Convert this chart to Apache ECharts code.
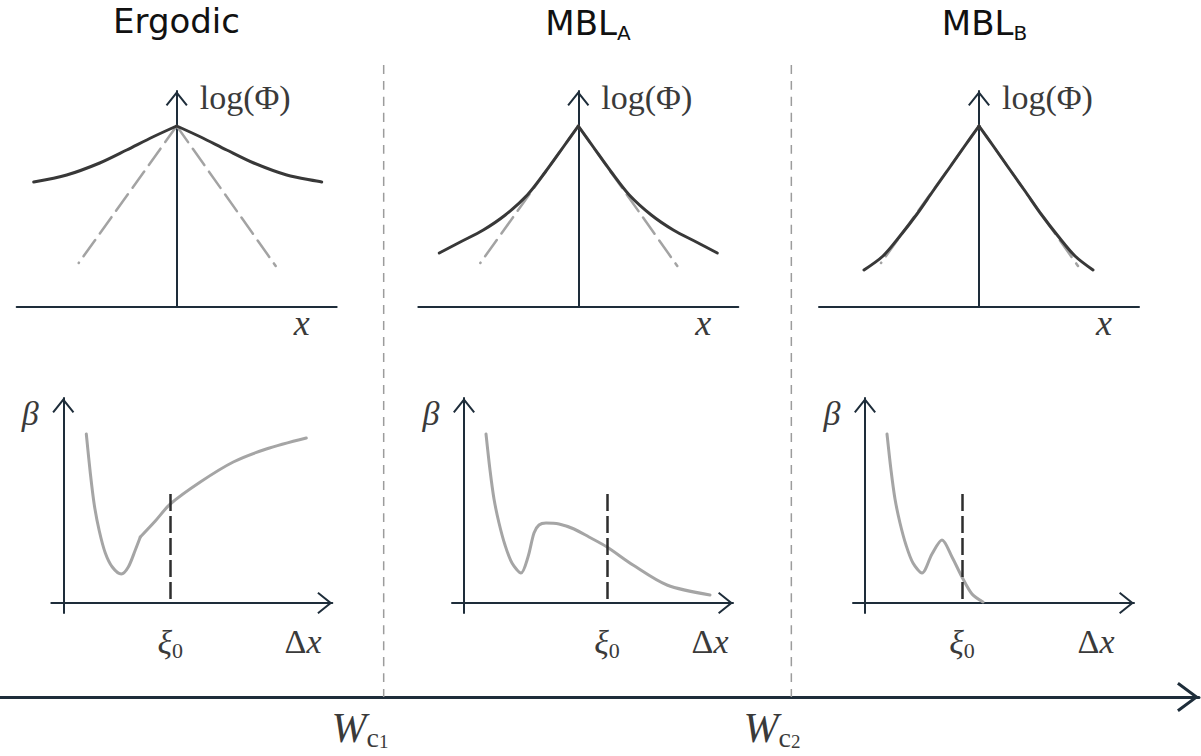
<!DOCTYPE html>
<html>
<head>
<meta charset="utf-8">
<title>Ergodic / MBL</title>
<script src="https://cdn.jsdelivr.net/npm/echarts@6.0.0/dist/echarts.min.js"></script>
<style>
    html, body { margin: 0; padding: 0; background: #fff; }
    #chart { width: 1201px; height: 756px; }
</style>
</head>
<body>
<div id="chart"></div>
<script>
// panel units: 1 unit = 100 px of the sketch

// top row: log(Phi) vs x, each curve split at the peak (x = 0)
var ergodicPhiLeft  = [[-1.43, 1.25], [-1.10, 1.32], [-0.77, 1.44], [-0.50, 1.57], [-0.24, 1.70], [0, 1.81]];
var ergodicPhiRight = [[0, 1.81], [0.24, 1.70], [0.50, 1.57], [0.77, 1.44], [1.10, 1.32], [1.45, 1.25]];
var mblAPhiLeft  = [[-1.39, 0.54], [-1.18, 0.65], [-0.95, 0.77], [-0.73, 0.92], [-0.51, 1.12], [-0.33, 1.35], [-0.15, 1.60], [0, 1.81]];
var mblAPhiRight = [[0, 1.81], [0.15, 1.60], [0.33, 1.35], [0.51, 1.12], [0.73, 0.92], [0.95, 0.77], [1.18, 0.65], [1.39, 0.54]];
var mblBPhiLeft  = [[-1.15, 0.37], [-0.96, 0.51], [-0.79, 0.71], [-0.62, 0.93], [-0.46, 1.16], [-0.29, 1.40], [-0.15, 1.60], [0, 1.81]];
var mblBPhiRight = [[0, 1.81], [0.15, 1.60], [0.29, 1.40], [0.46, 1.16], [0.62, 0.93], [0.79, 0.71], [0.96, 0.51], [1.14, 0.37]];
// dashed pure exponential, same in the three panels
var decayLeft  = [[0, 1.81], [-0.98, 0.44]];
var decayRight = [[0, 1.81], [0.99, 0.41]];

// bottom row: beta vs Delta x
var ergodicBetaA = [[0.23, 1.69], [0.27, 1.30], [0.31, 0.98], [0.36, 0.72], [0.42, 0.50], [0.49, 0.36], [0.58, 0.29],
                    [0.65, 0.36], [0.72, 0.53], [0.77, 0.66]];
var ergodicBetaB = [[0.77, 0.66], [0.92, 0.82], [1.07, 0.99], [1.37, 1.21], [1.70, 1.41], [2.03, 1.54], [2.43, 1.65]];
var mblABeta = [[0.22, 1.69], [0.26, 1.33], [0.30, 1.04], [0.35, 0.80], [0.41, 0.58], [0.48, 0.40], [0.57, 0.30],
                [0.64, 0.46], [0.70, 0.70], [0.75, 0.78], [0.82, 0.80], [0.95, 0.79], [1.10, 0.74], [1.25, 0.66], [1.43, 0.56],
                [1.69, 0.38], [2.03, 0.18], [2.46, 0.08]];
var mblBBeta = [[0.22, 1.69], [0.26, 1.33], [0.30, 1.04], [0.35, 0.80], [0.41, 0.58], [0.48, 0.40], [0.57, 0.30],
                [0.67, 0.49], [0.77, 0.63], [0.87, 0.46], [0.97, 0.26], [1.07, 0.09], [1.18, 0.01]];
var xi0 = [1.07, 1.43, 0.97];
var xi0Top = 1.09;

// W axis
var wCritical = [0.96, 1.98];
var wNames = ['1', '2'];

var titles = ['Ergodic', 'MBL', 'MBL'];
var titleSubs = ['', 'A', 'B'];

// layout / style
var topCentres = [176.7, 578.3, 979];
var bottomOrigins = [63.3, 464, 865];
var deltaXPos = [303, 710, 1096];
var wLabelPos = [360, 772];
var axisColor = '#1e2d3a';
var darkCurve = '#383838';
var greyDash = '#a3a3a3';
var greyBeta = '#a5a5a5';
var labelColor = '#3a3a3a';
var serif = '"Liberation Serif", "DejaVu Serif", serif';
var sans = '"DejaVu Sans", "Liberation Sans", sans-serif';

// open arrow head pointing up, as a filled band
function chevron(w, h, t) {
    var a = h - t * 0.6;
    var L = Math.sqrt(w * w / 4 + a * a);
    var ox = t * a / L, oy = t * (w / 2) / L;
    var tip = t * 2 * L / w;
    return 'path://M0,' + a + 'L' + (w / 2) + ',0L' + w + ',' + a +
        'L' + (w - ox) + ',' + (a + oy) + 'L' + (w / 2) + ',' + tip +
        'L' + ox + ',' + (a + oy) + 'Z';
}
var smallHead = chevron(22, 15, 2);
var bigHead = chevron(30, 22, 3);

function valueAxis(extra) {
    var ax = {
        type: 'value',
        axisTick: {show: false},
        axisLabel: {show: false},
        splitLine: {show: false}
    };
    for (var k in extra) ax[k] = extra[k];
    return ax;
}

function line(gi, data, color, width, dash, z) {
    return {
        type: 'line', xAxisIndex: gi, yAxisIndex: gi,
        data: data, smooth: 0.3, symbol: 'none', silent: true, clip: false, z: z,
        lineStyle: {color: color, width: width, type: dash || 'solid', cap: 'round', join: 'round'}
    };
}

var grids = [], xAxes = [], yAxes = [], series = [], texts = [];

// top row
var phiCurves = [[ergodicPhiLeft, ergodicPhiRight], [mblAPhiLeft, mblAPhiRight], [mblBPhiLeft, mblBPhiRight]];
for (var i = 0; i < 3; i++) {
    var gi = grids.length;
    grids.push({left: topCentres[i] - 160, top: 91, width: 320, height: 216, outerBoundsMode: 'none'});
    xAxes.push(valueAxis({
        gridIndex: gi, min: -1.6, max: 1.6,
        axisLine: {show: true, onZero: true, lineStyle: {color: axisColor, width: 2}}
    }));
    yAxes.push(valueAxis({
        gridIndex: gi, min: 0, max: 2.16,
        axisLine: {show: true, onZero: true, symbol: ['none', smallHead], symbolSize: [22, 15], symbolOffset: [0, -7.5],
            lineStyle: {color: axisColor, width: 2}}
    }));
    series.push(line(gi, decayLeft, greyDash, 2.5, [20, 8], 2));
    series.push(line(gi, decayRight, greyDash, 2.5, [20, 8], 2));
    series.push(line(gi, phiCurves[i][0], darkCurve, 3, 'solid', 3));
    series.push(line(gi, phiCurves[i][1], darkCurve, 3, 'solid', 3));

    texts.push({type: 'text', x: topCentres[i] + 23, y: 97, silent: true,
        style: {text: 'log(Φ)', fontFamily: serif, fontSize: 34, fill: labelColor, align: 'left', verticalAlign: 'middle'}});
    texts.push({type: 'text', x: topCentres[i] + 125, y: 323, silent: true,
        style: {text: 'x', fontFamily: serif, fontStyle: 'italic', fontSize: 36, fill: labelColor, align: 'center', verticalAlign: 'middle'}});
}

// bottom row
var betaCurves = [[ergodicBetaA, ergodicBetaB], [mblABeta], [mblBBeta]];
for (var j = 0; j < 3; j++) {
    var gb = grids.length;
    grids.push({left: bottomOrigins[j] - 12, top: 398, width: 281, height: 215, outerBoundsMode: 'none'});
    xAxes.push(valueAxis({
        gridIndex: gb, min: -0.12, max: 2.69,
        axisLine: {show: true, onZero: true, symbol: ['none', smallHead], symbolSize: [22, 15], symbolOffset: [0, -7.5],
            lineStyle: {color: axisColor, width: 2}},
        axisLabel: {
            show: true, customValues: [xi0[j]], margin: 10,
            formatter: function () { return '{g|ξ}{n|0}'; },
            rich: {
                g: {fontFamily: serif, fontStyle: 'italic', fontSize: 34, lineHeight: 38, color: labelColor},
                n: {fontFamily: serif, fontSize: 22, lineHeight: 18, verticalAlign: 'bottom', color: labelColor}
            }
        }
    }));
    yAxes.push(valueAxis({
        gridIndex: gb, min: -0.1, max: 2.05,
        axisLine: {show: true, onZero: true, symbol: ['none', smallHead], symbolSize: [22, 15], symbolOffset: [0, -7.5],
            lineStyle: {color: axisColor, width: 2}}
    }));
    betaCurves[j].forEach(function (c, k) {
        var s = line(gb, c, greyBeta, 3, 'solid', 2);
        if (k === 0) {
            s.markLine = {
                silent: true, symbol: ['none', 'none'], label: {show: false}, animation: false,
                lineStyle: {color: '#2e2e2e', width: 2.5, type: [17, 5]},
                data: [[{coord: [xi0[j], xi0Top]}, {coord: [xi0[j], 0]}]]
            };
        }
        series.push(s);
    });

    texts.push({type: 'text', x: bottomOrigins[j] - 33, y: 413, silent: true,
        style: {text: 'β', fontFamily: serif, fontStyle: 'italic', fontSize: 34, fill: labelColor, align: 'center', verticalAlign: 'middle'}});
    texts.push({type: 'text', x: deltaXPos[j], y: 641, silent: true,
        style: {text: '{d|Δ}{v|x}', align: 'center', verticalAlign: 'middle', rich: {
            d: {fontFamily: serif, fontSize: 34, fill: labelColor},
            v: {fontFamily: serif, fontStyle: 'italic', fontSize: 34, fill: labelColor}
        }}});
}

// long W axis with the two critical points
var gw = grids.length;
grids.push({left: 0, top: 65, width: 1199, height: 632, outerBoundsMode: 'none'});
xAxes.push(valueAxis({
    gridIndex: gw, min: 0, max: 3,
    axisLine: {show: true, onZero: true, symbol: ['none', bigHead], symbolSize: [30, 22], symbolOffset: [0, -11],
        lineStyle: {color: axisColor, width: 3}}
}));
yAxes.push(valueAxis({gridIndex: gw, min: 0, max: 1, show: false}));
wCritical.forEach(function (w, k) {
    var s = line(gw, [[w, 1], [w, 0]], '#9c9c9c', 1.5, [9, 7], 1);
    s.lineStyle.cap = 'butt';
    series.push(s);
    texts.push({type: 'text', x: wLabelPos[k], y: 728, silent: true,
        style: {text: '{w|W}{c|c}{n|' + wNames[k] + '}', align: 'center', verticalAlign: 'middle', rich: {
            w: {fontFamily: serif, fontStyle: 'italic', fontSize: 42, lineHeight: 46, fill: labelColor},
            c: {fontFamily: serif, fontSize: 28, lineHeight: 30, verticalAlign: 'bottom', fill: labelColor},
            n: {fontFamily: serif, fontSize: 19, lineHeight: 18, verticalAlign: 'bottom', fill: labelColor}
        }}});
});

// panel titles
var titleX = [176.5, 588, 984.5];
titles.forEach(function (t, k) {
    if (!titleSubs[k]) {
        texts.push({type: 'text', x: titleX[k], y: 21, silent: true,
            style: {text: t, fontFamily: sans, fontSize: 34, fill: '#111', align: 'center', verticalAlign: 'middle'}});
    } else {
        texts.push({type: 'text', x: titleX[k], y: 23, silent: true,
            style: {text: '{m|' + t + '}{s|' + titleSubs[k] + '}', align: 'center', verticalAlign: 'middle', rich: {
                m: {fontFamily: sans, fontSize: 34, lineHeight: 40, fill: '#111'},
                s: {fontFamily: sans, fontSize: 20, lineHeight: 14, verticalAlign: 'bottom', fill: '#111'}
            }}});
    }
});

var chart = echarts.init(document.getElementById('chart'), null, {renderer: 'svg'});
chart.setOption({
    backgroundColor: '#ffffff',
    animation: false,
    grid: grids,
    xAxis: xAxes,
    yAxis: yAxes,
    series: series,
    graphic: {elements: texts}
});
</script>
</body>
</html>
